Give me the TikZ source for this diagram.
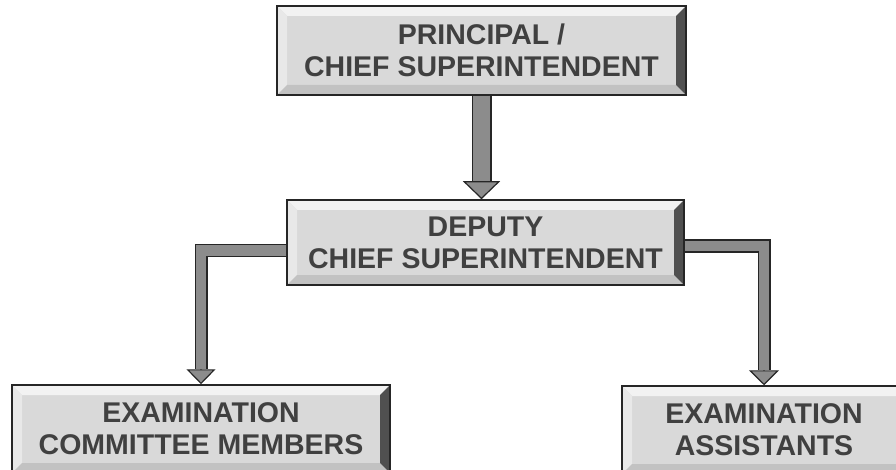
\documentclass[tikz,border=0pt]{standalone}
\usepackage{fontspec}
\setmainfont{Liberation Sans}
\usetikzlibrary{arrows.meta}
\definecolor{facegray}{HTML}{D9D9D9}
\definecolor{bevtop}{HTML}{F2F2F2}
\definecolor{bevleft}{HTML}{E8E8E8}
\definecolor{bevbottom}{HTML}{C2C2C2}
\definecolor{bevright}{HTML}{505050}
\definecolor{textgray}{HTML}{404040}
\definecolor{bargray}{HTML}{8C8C8C}
\definecolor{edgegray}{HTML}{262626}
\newcommand\ppbb{path picture bounding box}
\tikzset{
  bevelbox/.style={draw=edgegray, line width=1.5pt, fill=facegray, inner sep=0pt,
    text=textgray, align=center, font=\fontsize{28.5}{32}\selectfont\bfseries,
    path picture={
      \fill[bevtop] (\ppbb.north west) -- (\ppbb.north east) -- ([shift={(-10pt,-10pt)}]\ppbb.north east) -- ([shift={(10pt,-10pt)}]\ppbb.north west) -- cycle;
      \fill[bevleft] (\ppbb.north west) -- ([shift={(10pt,-10pt)}]\ppbb.north west) -- ([shift={(10pt,10pt)}]\ppbb.south west) -- (\ppbb.south west) -- cycle;
      \fill[bevbottom] (\ppbb.south west) -- (\ppbb.south east) -- ([shift={(-10pt,10pt)}]\ppbb.south east) -- ([shift={(10pt,10pt)}]\ppbb.south west) -- cycle;
      \fill[bevright] (\ppbb.north east) -- (\ppbb.south east) -- ([shift={(-10pt,10pt)}]\ppbb.south east) -- ([shift={(-10pt,-10pt)}]\ppbb.north east) -- cycle;
    }},
  shaft/.style={draw=edgegray, line width=1.2pt, double=bargray, double distance=#1pt, line join=miter},
  headtip/.style 2 args={draw=bargray, line width=1.2pt,
    -{Triangle[width=#1pt, length=#2pt, color=edgegray, fill=bargray]}}
}
\begin{document}
\begin{tikzpicture}[x=1pt, y=1pt]
    \clip (0,0) rectangle (896,469);
    % boxes
    \node [bevelbox, minimum width=409, minimum height=89] (chief) at (481.5,418.5) {PRINCIPAL /\\CHIEF SUPERINTENDENT};
    \node [bevelbox, minimum width=397, minimum height=85] (deputy) at (485.5,226.5) {DEPUTY\\CHIEF SUPERINTENDENT};
    \node [bevelbox, minimum width=378, minimum height=88] (committee) at (201,40) {EXAMINATION\\COMMITTEE MEMBERS};
    \node [bevelbox, minimum width=284, minimum height=88] (assistants) at (764,39) {EXAMINATION\\ASSISTANTS};
    % arrow heads
    \path (chief.south |- deputy.north) ++(0,18) coordinate (h1);
    \path (committee.north) ++(0,15) coordinate (h2);
    \path (assistants.north) ++(0,15) coordinate (h3);
    \draw [headtip={37}{18}] (h1) -- (chief.south |- deputy.north);
    \draw [headtip={29}{15}] (h2) -- (committee.north);
    \draw [headtip={30}{15}] (h3) -- (assistants.north);
    % shafts
    \draw [shaft=17.6] (chief.south) -- (h1);
    \draw [shaft=10.6] ([yshift=-8]deputy.west) -| (h2);
    \draw [shaft=10.6] ([yshift=-3.5]deputy.east) -| (h3);
\end{tikzpicture}
\end{document}
